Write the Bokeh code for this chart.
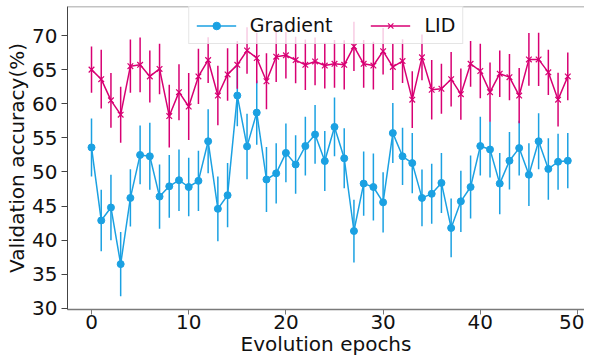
import numpy as np
from bokeh.plotting import figure
from bokeh.models import Range1d, FixedTicker, Legend, LegendItem, ColumnDataSource, Span
from bokeh.embed import file_html
from bokeh.resources import INLINE

# ---------------- data ----------------
epochs = list(range(50))
grad = [53.6, 42.9, 44.8, 36.5, 46.2, 52.5, 52.3, 46.4, 47.9, 48.8,
        47.8, 48.7, 54.5, 44.6, 46.6, 61.2, 53.75, 58.7, 48.9, 49.8,
        52.8, 51.1, 53.8, 55.5, 51.6, 56.6, 52.0, 41.35, 48.3, 47.8,
        45.55, 55.7, 52.3, 51.3, 46.2, 46.8, 48.4, 41.8, 45.7, 47.8,
        53.8, 53.3, 48.3, 51.65, 53.5, 49.6, 54.5, 50.45, 51.5, 51.65]
grad_err = [4.25, 4.5, 4.8, 4.7, 4.2, 4.3, 4.9, 4.7, 4.6, 4.5,
            4.3, 4.4, 4.7, 4.75, 4.7, 4.5, 4.8, 4.7, 4.75, 4.4,
            4.3, 4.3, 4.3, 4.3, 4.4, 4.3, 4.4, 4.6, 4.7, 4.9,
            4.4, 4.4, 4.2, 4.4, 4.15, 4.4, 4.4, 4.3, 4.5, 4.6,
            4.3, 4.1, 4.5, 4.2, 4.0, 4.6, 4.1, 4.5, 4.1, 4.05]
lid = [65.0, 63.6, 60.5, 58.4, 65.5, 65.7, 64.0, 65.1, 58.2, 61.7,
       59.6, 64.0, 66.4, 61.2, 64.3, 65.7, 67.8, 66.7, 63.3, 66.9,
       67.1, 66.4, 65.7, 66.2, 65.6, 65.85, 65.7, 68.4, 65.85, 65.6,
       67.7, 65.4, 66.25, 60.6, 66.8, 62.05, 62.2, 63.6, 61.4, 65.85,
       64.8, 61.7, 64.4, 63.9, 61.2, 66.5, 66.5, 64.6, 60.6, 64.0]
lid_err = [3.4, 4.3, 4.0, 4.1, 3.9, 4.0, 3.8, 3.7, 4.6, 4.1,
           4.9, 4.05, 3.35, 4.35, 3.85, 3.5, 3.4, 3.7, 4.1, 3.7,
           3.4, 3.4, 3.7, 3.5, 3.35, 3.5, 3.6, 3.6, 3.5, 3.5,
           3.4, 3.4, 3.2, 4.15, 3.35, 4.35, 3.65, 4.0, 3.75, 3.35,
           4.0, 4.35, 3.4, 3.4, 4.05, 3.85, 3.9, 3.3, 3.95, 3.5]
x_ticks = [0, 10, 20, 30, 40, 50]
y_ticks = [30, 35, 40, 45, 50, 55, 60, 65, 70]
series_names = ["Gradient", "LID"]
x_label = "Evolution epochs"
y_label = "Validation accuracy(%)"

# ---------------- styling ----------------
BLUE = "#1ba1e2"
PINK = "#d80073"
FONT = "DejaVu Sans"
X0, X1 = -2.47, 50.72
Y0, Y1 = 29.85, 74.25

p = figure(width=584, height=360, output_backend="svg", toolbar_location=None,
           x_range=Range1d(X0, X1), y_range=Range1d(Y0, Y1),
           min_border_left=67, min_border_right=0, min_border_top=6,
           min_border_bottom=51)
p.outline_line_color = None
p.background_fill_color = "white"
p.border_fill_color = "white"
p.grid.visible = False

for ax in (p.xaxis[0], p.yaxis[0]):
    ax.major_label_text_font = FONT
    ax.major_label_text_font_size = "20px"
    ax.major_label_text_color = "#111111"
    ax.minor_tick_line_color = None
    ax.major_tick_in = 0
    ax.axis_label_text_font = FONT
    ax.axis_label_text_font_size = "20px"
    ax.axis_label_text_font_style = "normal"
    ax.axis_label_text_color = "#111111"
    ax.axis_label_standoff = 0

p.xaxis.ticker = FixedTicker(ticks=x_ticks)
p.yaxis.ticker = FixedTicker(ticks=y_ticks)
p.yaxis.axis_label = y_label
p.xaxis.axis_label = x_label
p.yaxis.major_tick_out = 6
p.yaxis.major_label_standoff = 4
p.xaxis.major_tick_out = 5
p.xaxis.major_label_standoff = 0
p.yaxis.axis_line_color = "#444444"
p.yaxis.major_tick_line_color = "#444444"
p.xaxis.axis_line_color = "#7a7a7a"
p.xaxis.major_tick_line_color = "#7a7a7a"
p.xaxis.axis_line_width = 1.3

p.add_layout(Span(location=Y1, dimension="width", line_color="#888888", line_width=1.5))

# ---------------- series ----------------
def draw(vals, errs, color, marker, msize):
    lo = [v - e for v, e in zip(vals, errs)]
    hi = [v + e for v, e in zip(vals, errs)]
    src = ColumnDataSource(dict(x=epochs, y=vals, lo=lo, hi=hi))
    ln = p.line("x", "y", source=src, line_color=color, line_width=1.5)
    eb = p.segment(x0="x", y0="lo", x1="x", y1="hi", source=src,
                   line_color=color, line_width=1.5)
    if marker == "circle":
        mk = p.scatter("x", "y", source=src, marker="circle", size=msize,
                       fill_color=color, line_color=color)
    else:
        mk = p.scatter("x", "y", source=src, marker=marker, size=msize,
                       line_color=color, line_width=1.2)
    return ln, eb, mk

g_ln, g_eb, g_mk = draw(grad, grad_err, BLUE, "circle", 7)
l_ln, l_eb, l_mk = draw(lid, lid_err, PINK, "x", 8)

# legend-only helper for LID (vertical bar through the x)
empty = ColumnDataSource(dict(x=[], y=[]))
l_cross = p.scatter("x", "y", source=empty, marker="cross", size=8,
                    line_color=PINK, line_width=1.2)

legend = Legend(items=[LegendItem(label=series_names[0], renderers=[g_ln, g_mk]),
                       LegendItem(label=series_names[1], renderers=[l_ln, l_mk, l_cross])],
                location="top_center", orientation="horizontal", margin=0,
                padding=7, spacing=38, glyph_width=40, glyph_height=19,
                label_height=19, label_standoff=14,
                label_text_font=FONT, label_text_font_size="19px",
                label_text_color="#111111",
                border_line_color="#cccccc", border_line_width=1,
                background_fill_color="white", background_fill_alpha=0.8)
p.add_layout(legend)

open("out.html", "w").write(file_html(p, INLINE))
